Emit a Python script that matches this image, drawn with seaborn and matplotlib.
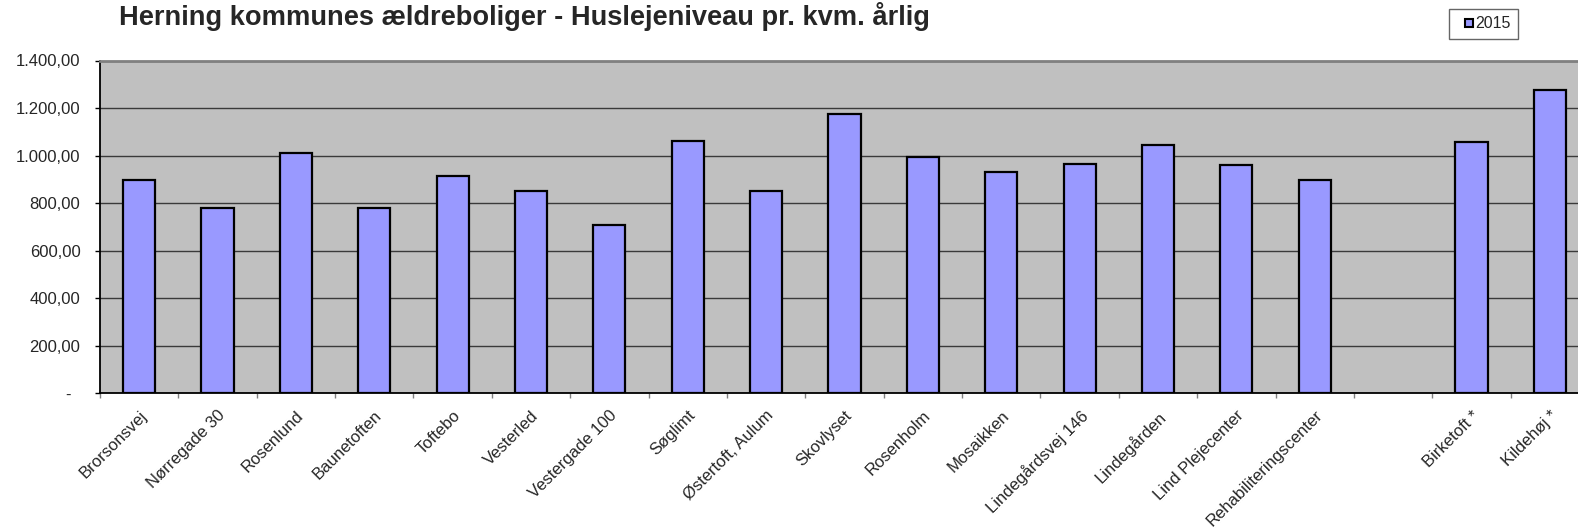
import numpy as np
import pandas as pd
import seaborn as sns
import matplotlib

matplotlib.use('Agg')
import matplotlib.pyplot as plt
from matplotlib.lines import Line2D
from matplotlib.ticker import FuncFormatter, FixedLocator

# data (kr. pr. kvm. årlig, 2015)
steder = ["Brorsonsvej", "Nørregade 30", "Rosenlund", "Baunetoften", "Toftebo",
          "Vesterled", "Vestergade 100", "Søglimt", "Østertoft, Aulum", "Skovlyset",
          "Rosenholm", "Mosaikken", "Lindegårdsvej 146", "Lindegården",
          "Lind Plejecenter", "Rehabiliteringscenter", "", "Birketoft *", "Kildehøj *"]
leje_2015 = [898, 778, 1012, 779, 914,
             853, 706, 1061, 852, 1175,
             996, 930, 963, 1044,
             961, 897, np.nan, 1057, 1277]
aar = "2015"

df = pd.DataFrame({"sted": steder, "leje": leje_2015})

sns.set_theme(style="white")
plt.rcParams['font.family'] = ['Liberation Sans', 'DejaVu Sans']

W, H = 1578, 532
fig = plt.figure(figsize=(W / 100, H / 100), dpi=100)
# plot area runs past the right edge like in the original screenshot
ax = fig.add_axes([100 / W, 1 - 393.3 / H, (1589 - 100) / W, (393.3 - 60.5) / H])
ax.set_facecolor("#C0C0C0")

sns.barplot(data=df, x="sted", y="leje", order=steder, color="#9999FF",
            edgecolor="black", linewidth=1.6, width=0.41, errorbar=None,
            saturation=1, ax=ax)

ax.set_ylim(0, 1400)
ax.set_xlim(-0.5, len(steder) - 0.5)
ax.set_yticks(np.arange(0, 1401, 200))
ax.yaxis.grid(True, color="#3a3a3a", linewidth=1)
ax.set_axisbelow(True)


def dk_fmt(v, pos):
    if v == 0:
        return "-  "
    s = f"{v:,.2f}"
    return s.replace(",", "X").replace(".", ",").replace("X", ".")


ax.yaxis.set_major_formatter(FuncFormatter(dk_fmt))
ax.tick_params(axis="y", which="major", left=True, length=3.6, width=1,
               color="black", pad=10.5, labelsize=12)

ax.xaxis.set_minor_locator(FixedLocator(np.arange(-0.5, len(steder), 1)))
ax.tick_params(axis="x", which="minor", bottom=True, length=3.5, width=1, color="#808080")
ax.tick_params(axis="x", which="major", bottom=False, length=0, pad=10.5, labelsize=12)
for lbl in ax.get_xticklabels():
    lbl.set_rotation(45)
    lbl.set_ha("right")
    lbl.set_va("top")
    lbl.set_rotation_mode("anchor")

ax.set_xlabel("")
ax.set_ylabel("")

for side in ["left", "bottom"]:
    ax.spines[side].set_color("black")
    ax.spines[side].set_linewidth(1.3)
ax.spines["top"].set_color("#808080")
ax.spines["top"].set_linewidth(2)
ax.spines["right"].set_visible(False)

fig.text(119 / W, 1 - 25 / H, "Herning kommunes ældreboliger - Huslejeniveau pr. kvm. årlig",
         fontsize=19.6, fontweight="bold", va="baseline", ha="left")

# legend: small blue square with black border, like the spreadsheet legend
handle = Line2D([], [], linestyle="none", marker="s", markersize=6,
                markerfacecolor="#9999FF", markeredgecolor="black", markeredgewidth=1.5)
leg = fig.legend([handle], [aar], loc="center",
                 bbox_to_anchor=((1447 + 1520) / 2 / W, 1 - 24 / H),
                 fontsize=11.5, frameon=True, fancybox=False, handlelength=1.6,
                 handletextpad=-0.36, borderpad=0.45, borderaxespad=0)
leg.get_frame().set_edgecolor("#404040")
leg.get_frame().set_linewidth(1)

fig.savefig("out.png", dpi=100)
